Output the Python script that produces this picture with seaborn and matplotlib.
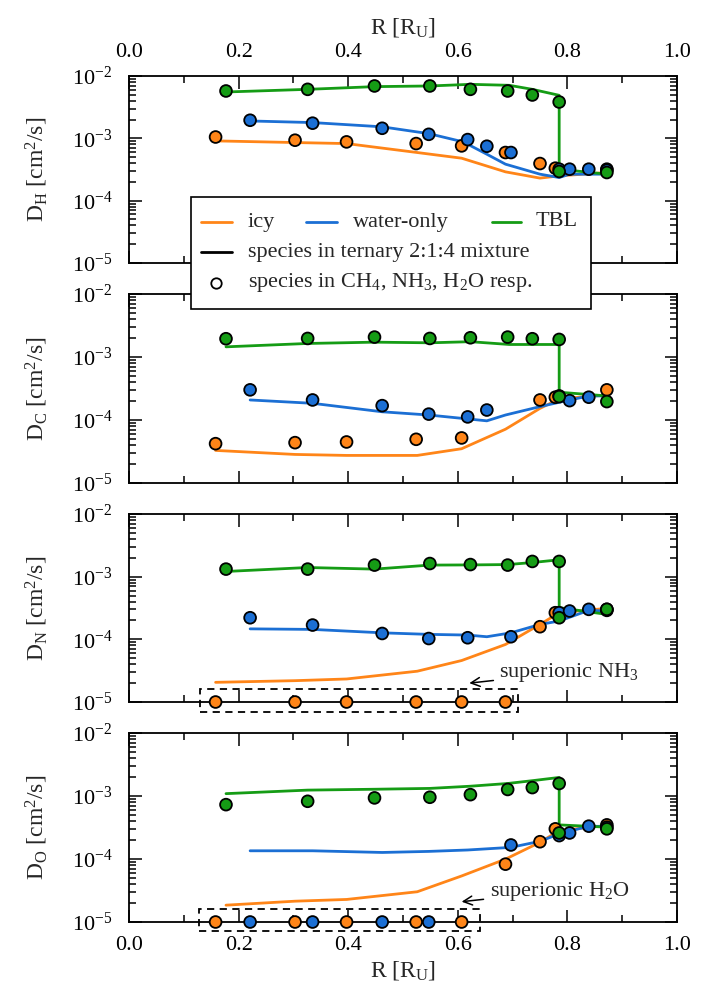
import numpy as np
import pandas as pd
import matplotlib
matplotlib.use("Agg")
import matplotlib.pyplot as plt
import seaborn as sns
from matplotlib.ticker import LogLocator, LogFormatterMathtext, MultipleLocator, NullFormatter, FormatStrFormatter
from matplotlib.lines import Line2D
from matplotlib.patches import Rectangle

# ---------------- data (R in R_U, D in cm^2/s) ----------------
# H panel
H_icy_line_R = [0.158, 0.303, 0.397, 0.526, 0.607, 0.687, 0.750, 0.785, 0.872]
H_icy_line_D = [9.10e-4, 8.56e-4, 8.24e-4, 5.92e-4, 4.80e-4, 2.90e-4, 2.30e-4, 2.50e-4, 2.83e-4]
H_wat_line_R = [0.221, 0.335, 0.462, 0.547, 0.610, 0.653, 0.687, 0.750, 0.785, 0.804, 0.872]
H_wat_line_D = [1.90e-3, 1.79e-3, 1.53e-3, 1.19e-3, 8.77e-4, 5.56e-4, 3.85e-4, 2.66e-4, 2.35e-4, 2.66e-4, 2.66e-4]
H_tbl_line_R = [0.177, 0.326, 0.448, 0.549, 0.623, 0.694, 0.736, 0.785, 0.785, 0.872]
H_tbl_line_D = [5.54e-3, 6.11e-3, 6.75e-3, 6.92e-3, 7.35e-3, 7.09e-3, 6.11e-3, 4.90e-3, 3.20e-4, 2.66e-4]
H_icy_pt_R = [0.158, 0.303, 0.397, 0.524, 0.607, 0.687, 0.750, 0.778, 0.872]
H_icy_pt_D = [1.05e-3, 9.33e-4, 8.77e-4, 8.24e-4, 7.57e-4, 5.92e-4, 3.94e-4, 3.32e-4, 3.20e-4]
H_wat_pt_R = [0.221, 0.335, 0.462, 0.547, 0.618, 0.653, 0.697, 0.785, 0.804, 0.839, 0.872]
H_wat_pt_D = [1.95e-3, 1.75e-3, 1.45e-3, 1.16e-3, 9.55e-4, 7.47e-4, 5.92e-4, 3.20e-4, 3.20e-4, 3.20e-4, 3.08e-4]
H_tbl_pt_R = [0.177, 0.326, 0.448, 0.549, 0.623, 0.691, 0.736, 0.785, 0.785, 0.872]
H_tbl_pt_D = [5.75e-3, 6.11e-3, 6.92e-3, 6.92e-3, 6.11e-3, 5.75e-3, 4.96e-3, 3.83e-3, 2.94e-4, 2.83e-4]

# C panel
C_icy_line_R = [0.158, 0.303, 0.397, 0.526, 0.607, 0.687, 0.750, 0.785, 0.872]
C_icy_line_D = [3.29e-5, 2.84e-5, 2.74e-5, 2.74e-5, 3.50e-5, 7.14e-5, 1.53e-4, 2.16e-4, 2.50e-4]
C_wat_line_R = [0.221, 0.335, 0.462, 0.547, 0.653, 0.687, 0.750, 0.785, 0.839, 0.872]
C_wat_line_D = [2.08e-4, 1.84e-4, 1.35e-4, 1.20e-4, 9.70e-5, 1.20e-4, 1.63e-4, 1.91e-4, 2.41e-4, 2.41e-4]
C_tbl_line_R = [0.177, 0.326, 0.448, 0.549, 0.623, 0.694, 0.785, 0.785, 0.872]
C_tbl_line_D = [1.45e-3, 1.64e-3, 1.72e-3, 1.68e-3, 1.75e-3, 1.58e-3, 1.58e-3, 2.76e-4, 2.41e-4]
C_icy_pt_R = [0.158, 0.303, 0.397, 0.524, 0.607, 0.750, 0.778, 0.872]
C_icy_pt_D = [4.21e-5, 4.37e-5, 4.48e-5, 4.94e-5, 5.19e-5, 2.08e-4, 2.30e-4, 3.01e-4]
C_wat_pt_R = [0.221, 0.335, 0.462, 0.547, 0.618, 0.653, 0.785, 0.804, 0.839]
C_wat_pt_D = [3.01e-4, 2.08e-4, 1.69e-4, 1.24e-4, 1.12e-4, 1.44e-4, 2.41e-4, 2.03e-4, 2.30e-4]
C_tbl_pt_R = [0.177, 0.326, 0.448, 0.549, 0.623, 0.691, 0.736, 0.785, 0.785, 0.872]
C_tbl_pt_D = [1.95e-3, 1.97e-3, 2.07e-3, 1.97e-3, 2.02e-3, 2.07e-3, 1.95e-3, 1.90e-3, 2.35e-4, 1.96e-4]

# N panel
N_icy_line_R = [0.158, 0.303, 0.397, 0.526, 0.607, 0.687, 0.750, 0.785, 0.872]
N_icy_line_D = [2.06e-5, 2.19e-5, 2.33e-5, 3.10e-5, 4.59e-5, 8.28e-5, 1.73e-4, 2.66e-4, 3.12e-4]
N_wat_line_R = [0.221, 0.335, 0.462, 0.547, 0.618, 0.653, 0.697, 0.750, 0.785, 0.839, 0.872]
N_wat_line_D = [1.47e-4, 1.44e-4, 1.27e-4, 1.20e-4, 1.17e-4, 1.10e-4, 1.27e-4, 1.73e-4, 1.96e-4, 2.90e-4, 2.83e-4]
N_tbl_line_R = [0.177, 0.326, 0.448, 0.549, 0.623, 0.691, 0.736, 0.785, 0.785, 0.872]
N_tbl_line_D = [1.21e-3, 1.40e-3, 1.32e-3, 1.53e-3, 1.54e-3, 1.56e-3, 1.68e-3, 1.86e-3, 3.20e-4, 2.50e-4]
N_icy_pt_R = [0.158, 0.303, 0.397, 0.524, 0.607, 0.687, 0.750, 0.778, 0.872]
N_icy_pt_D = [1e-5, 1e-5, 1e-5, 1e-5, 1e-5, 1e-5, 1.59e-4, 2.66e-4, 3.01e-4]
N_wat_pt_R = [0.221, 0.335, 0.462, 0.547, 0.618, 0.697, 0.785, 0.804, 0.839, 0.872]
N_wat_pt_D = [2.21e-4, 1.69e-4, 1.24e-4, 1.03e-4, 1.06e-4, 1.10e-4, 2.66e-4, 2.83e-4, 3.01e-4, 2.90e-4]
N_tbl_pt_R = [0.177, 0.326, 0.448, 0.549, 0.623, 0.691, 0.736, 0.785, 0.785, 0.872]
N_tbl_pt_D = [1.32e-3, 1.32e-3, 1.53e-3, 1.62e-3, 1.56e-3, 1.53e-3, 1.75e-3, 1.75e-3, 2.21e-4, 3.01e-4]

# O panel
O_icy_line_R = [0.177, 0.303, 0.397, 0.526, 0.607, 0.687, 0.750, 0.785, 0.872]
O_icy_line_D = [1.85e-5, 2.14e-5, 2.28e-5, 3.02e-5, 5.38e-5, 9.95e-5, 1.84e-4, 2.83e-4, 3.40e-4]
O_wat_line_R = [0.221, 0.335, 0.462, 0.547, 0.618, 0.697, 0.750, 0.785, 0.839, 0.872]
O_wat_line_D = [1.35e-4, 1.35e-4, 1.27e-4, 1.32e-4, 1.39e-4, 1.53e-4, 1.91e-4, 2.50e-4, 3.32e-4, 3.28e-4]
O_tbl_line_R = [0.177, 0.326, 0.448, 0.549, 0.623, 0.691, 0.736, 0.785, 0.785, 0.872]
O_tbl_line_D = [1.09e-3, 1.24e-3, 1.28e-3, 1.32e-3, 1.43e-3, 1.58e-3, 1.75e-3, 1.97e-3, 3.48e-4, 3.20e-4]
O_icy_pt_R = [0.158, 0.303, 0.397, 0.524, 0.607, 0.687, 0.750, 0.778, 0.872]
O_icy_pt_D = [1e-5, 1e-5, 1e-5, 1e-5, 1e-5, 8.28e-5, 1.88e-4, 3.01e-4, 3.48e-4]
O_wat_pt_R = [0.221, 0.335, 0.462, 0.547, 0.697, 0.785, 0.804, 0.839, 0.872]
O_wat_pt_D = [1e-5, 1e-5, 1e-5, 1e-5, 1.67e-4, 2.35e-4, 2.59e-4, 3.32e-4, 3.20e-4]
O_tbl_pt_R = [0.177, 0.326, 0.448, 0.549, 0.623, 0.691, 0.736, 0.785, 0.785, 0.872]
O_tbl_pt_D = [7.29e-4, 8.24e-4, 9.33e-4, 9.55e-4, 1.05e-3, 1.27e-3, 1.36e-3, 1.58e-3, 2.59e-4, 3.01e-4]

species = ["H", "C", "N", "O"]
models = ["icy", "water-only", "TBL"]
model_keys = {"icy": "icy", "water-only": "wat", "TBL": "tbl"}
colors = {"icy": "#ff8518", "water-only": "#1b6fd4", "TBL": "#159c15"}

# superionic boxes: (R0, R1, D0, D1)
box_N = (0.130, 0.710, 6.8e-6, 1.61e-5)
box_O = (0.128, 0.640, 7.3e-6, 1.61e-5)

# ---------------- assemble long tables ----------------
g = globals()
line_rows, pt_rows = [], []
for sp in species:
    for m in models:
        k = model_keys[m]
        for r, d in zip(g[f"{sp}_{k}_line_R"], g[f"{sp}_{k}_line_D"]):
            line_rows.append(dict(species=sp, model=m, R=r, D=d))
        for r, d in zip(g[f"{sp}_{k}_pt_R"], g[f"{sp}_{k}_pt_D"]):
            pt_rows.append(dict(species=sp, model=m, R=r, D=d))
lines_df = pd.DataFrame(line_rows)
pts_df = pd.DataFrame(pt_rows)

# ---------------- style ----------------
sns.set_theme(style="ticks")
plt.rcParams.update({
    "font.family": ["Liberation Serif", "DejaVu Serif"],
    "mathtext.fontset": "custom",
    "mathtext.rm": "Liberation Serif",
    "mathtext.it": "Liberation Serif:italic",
    "mathtext.bf": "Liberation Serif:bold",
    "axes.linewidth": 1.3,
    "axes.edgecolor": "black",
    "xtick.color": "black",
    "ytick.color": "black",
    "axes.facecolor": "white",
    "figure.facecolor": "white",
})

W, H = 719, 990
fig = plt.figure(figsize=(W / 100, H / 100), dpi=100)

def fx(px):
    return px / W

def fy(py):
    return 1 - py / H

left_px, right_px = 129, 677
panel_px = [(76, 263), (294, 483), (514, 702), (733, 922)]
axes = []
for (t, b) in panel_px:
    ax = fig.add_axes([fx(left_px), fy(b), fx(right_px) - fx(left_px), (b - t) / H])
    axes.append(ax)

FS = 16
LFS = 17
for i, (ax, sp) in enumerate(zip(axes, species)):
    ld = lines_df[lines_df.species == sp]
    pd_ = pts_df[pts_df.species == sp]
    sns.lineplot(data=ld, x="R", y="D", hue="model", hue_order=models, palette=colors,
                 sort=False, estimator=None, legend=False, linewidth=2.0, ax=ax, zorder=2)
    sns.scatterplot(data=pd_, x="R", y="D", hue="model", hue_order=models, palette=colors,
                    s=72, edgecolor="black", linewidth=1.3, legend=False, ax=ax,
                    zorder=4, clip_on=False)
    ax.set_yscale("log")
    ax.set_xlim(0, 1)
    ax.set_ylim(1e-5, 1e-2)
    ax.yaxis.set_major_locator(LogLocator(base=10, numticks=10))
    ax.yaxis.set_minor_locator(LogLocator(base=10, subs=np.arange(2, 10), numticks=10))
    ax.yaxis.set_major_formatter(LogFormatterMathtext())
    ax.yaxis.set_minor_formatter(NullFormatter())
    ax.xaxis.set_major_locator(MultipleLocator(0.2))
    ax.xaxis.set_minor_locator(MultipleLocator(0.1))
    ax.xaxis.set_major_formatter(FormatStrFormatter("%.1f"))
    ax.tick_params(which="both", direction="in", top=True, right=True, labelsize=FS, width=1.1)
    ax.tick_params(which="major", length=9)
    ax.tick_params(which="minor", length=5)
    ax.tick_params(axis="y", which="major", pad=12)
    ax.tick_params(axis="x", which="major", pad=10)
    ax.set_ylabel(r"D$_{\mathrm{%s}}$ [cm$^{2}$/s]" % sp, fontsize=LFS)
    ax.yaxis.set_label_coords(-0.145, 0.5)
    ax.set_xlabel("")
    if i == 0:
        ax.tick_params(axis="x", labeltop=True, labelbottom=False)
        ax.xaxis.set_label_position("top")
        ax.set_xlabel(r"R [R$_{\mathrm{U}}$]", fontsize=LFS, labelpad=7)
    elif i == 3:
        ax.tick_params(axis="x", labeltop=False, labelbottom=True)
        ax.set_xlabel(r"R [R$_{\mathrm{U}}$]", fontsize=LFS, labelpad=3)
    else:
        ax.tick_params(axis="x", labeltop=False, labelbottom=False)

# superionic boxes and annotations
for ax, box, label, xy, xytext in [
    (axes[2], box_N, r"superionic NH$_{3}$", (0.621, 2.0e-5), (0.676, 3.0e-5)),
    (axes[3], box_O, r"superionic H$_{2}$O", (0.607, 2.1e-5), (0.658, 3.1e-5)),
]:
    r0, r1, d0, d1 = box
    ax.add_patch(Rectangle((r0, d0), r1 - r0, d1 - d0, fill=False, edgecolor="black",
                           linestyle=(0, (4, 3)), linewidth=1.3, clip_on=False, zorder=3))
    ax.annotate(label, xy=xy, xytext=xytext, fontsize=FS, ha="left", va="center",
                arrowprops=dict(arrowstyle="->", color="black", lw=1.1,
                                shrinkA=2, shrinkB=0))

# ---------------- manual legend (figure pixel layout) ----------------
fig.add_artist(Rectangle((fx(191), fy(309)), fx(591) - fx(191), (309 - 197) / H,
                         transform=fig.transFigure, facecolor="white", edgecolor="black",
                         linewidth=1.2, zorder=10))
row1, row2, row3 = 222, 252, 283
leg_items = [
    (201, 232, row1, colors["icy"], 248, "icy"),
    (306, 337, row1, colors["water-only"], 353, "water-only"),
    (492, 521, row1, colors["TBL"], 536, "TBL"),
    (201, 232, row2, "black", 248, "species in ternary 2:1:4 mixture"),
]
for x0, x1, y, c, tx, txt in leg_items:
    fig.add_artist(Line2D([fx(x0), fx(x1)], [fy(y), fy(y)], transform=fig.transFigure,
                          color=c, linewidth=2.0, zorder=11))
    fig.text(fx(tx), fy(y), txt, fontsize=16, ha="left", va="center", zorder=12)
fig.add_artist(Line2D([fx(216)], [fy(row3)], transform=fig.transFigure, marker="o",
                      markersize=7.5, markerfacecolor="white", markeredgecolor="black",
                      markeredgewidth=1.3, linestyle="none", zorder=11))
fig.text(fx(248), fy(row3 - 1), r"species in CH$_{4}$, NH$_{3}$, H$_{2}$O resp.",
         fontsize=16, ha="left", va="center", zorder=12)

fig.savefig("out.png", dpi=100)
